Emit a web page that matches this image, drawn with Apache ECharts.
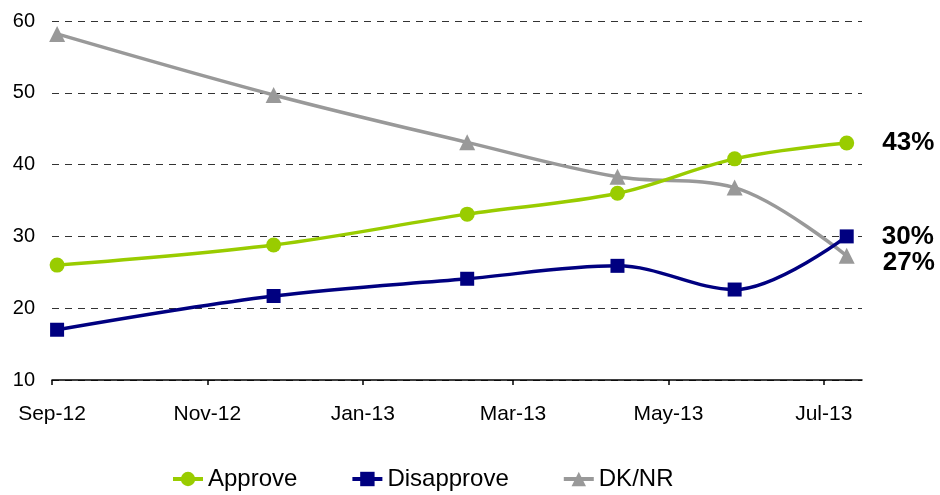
<!DOCTYPE html>
<html>
<head>
<meta charset="utf-8">
<script src="https://cdn.jsdelivr.net/npm/echarts@6/dist/echarts.min.js"></script>
<style>
html,body{margin:0;padding:0;background:#fff;}
#chart{width:940px;height:495px;}
</style>
</head>
<body>
<div id="chart"></div>
<script>
// ---- data ----
const surveyDates = ['2012-09-03', '2012-11-27', '2013-02-11', '2013-04-11', '2013-05-27', '2013-07-10'];
const approve     = [26.0, 28.8, 33.1, 36.0, 40.8, 43.0];
const disapprove  = [17.0, 21.7, 24.1, 25.9, 22.6, 30.0];
const dknr        = [58.2, 49.7, 43.1, 38.3, 36.8, 27.3];
const seriesNames = ['Approve', 'Disapprove', 'DK/NR'];
const xTickDates  = ['2012-09-01', '2012-11-01', '2013-01-01', '2013-03-01', '2013-05-01', '2013-07-01'];
const xTickLabels = ['Sep-12', 'Nov-12', 'Jan-13', 'Mar-13', 'May-13', 'Jul-13'];
const endLabels   = ['43%', '30%', '27%'];
const xMin = '2012-09-01';
const xMax = '2013-07-16';

// dates as day numbers (UTC days) for a linear value axis
function dayNum(s) { const p = s.split('-').map(Number); return Date.UTC(p[0], p[1] - 1, p[2]) / 86400000; }
const tickDays = xTickDates.map(dayNum);

const colors = ['#99CC00', '#000080', '#999999'];
const symbols = ['circle', 'rect', 'triangle'];
const symbolSizes = [15, 14, 16];
const labelOffsets = [[0, 0], [0, 0], [0, 7]];

function buildData(values, idx) {
  return values.map((v, i) => {
    const item = { value: [dayNum(surveyDates[i]), v] };
    if (i === values.length - 1) {
      item.label = {
        show: true,
        position: 'right',
        distance: 28,
        offset: labelOffsets[idx],
        formatter: endLabels[idx],
        fontFamily: 'Liberation Sans, Arial, sans-serif',
        fontWeight: 'bold',
        fontSize: 26,
        color: '#000'
      };
    }
    return item;
  });
}

const allValues = [approve, disapprove, dknr];

const chart = echarts.init(document.getElementById('chart'));
chart.setOption({
  animation: false,
  textStyle: { fontFamily: 'Liberation Sans, Arial, sans-serif' },
  grid: { left: 52, right: 78, top: 21, bottom: 115, containLabel: false },
  xAxis: {
    type: 'value',
    min: dayNum(xMin),
    max: dayNum(xMax),
    axisLine: { show: true, onZero: false, lineStyle: { color: '#000', width: 1.5 } },
    axisTick: { show: true, length: 5, inside: false, customValues: tickDays, lineStyle: { color: '#000', width: 1.5 } },
    axisLabel: {
      customValues: tickDays,
      showMinLabel: true,
      showMaxLabel: true,
      margin: 24,
      fontSize: 21,
      color: '#000',
      formatter: function (v) {
        const i = tickDays.indexOf(v);
        return i >= 0 ? xTickLabels[i] : '';
      }
    },
    splitLine: { show: false }
  },
  yAxis: {
    type: 'value',
    min: 10,
    max: 60,
    interval: 10,
    axisLine: { show: false },
    axisTick: { show: false },
    axisLabel: { margin: 17, fontSize: 20, color: '#000' },
    splitLine: { show: true, lineStyle: { color: '#333', width: 1, type: [7, 6] } }
  },
  legend: {
    bottom: -1,
    left: 166,
    itemWidth: 30,
    itemHeight: 18,
    itemGap: 53,
    lineStyle: { width: 4 },
    textStyle: { fontSize: 24, color: '#000' },
    data: seriesNames
  },
  series: seriesNames.map((name, k) => ({
    name: name,
    type: 'line',
    smooth: 0.35,
    data: buildData(allValues[k], k),
    symbol: symbols[k],
    symbolSize: symbolSizes[k],
    showAllSymbol: true,
    itemStyle: { color: colors[k] },
    lineStyle: { color: colors[k], width: 3.5 },
    label: { show: false },
    z: 3 - k
  }))
});
</script>
</body>
</html>
